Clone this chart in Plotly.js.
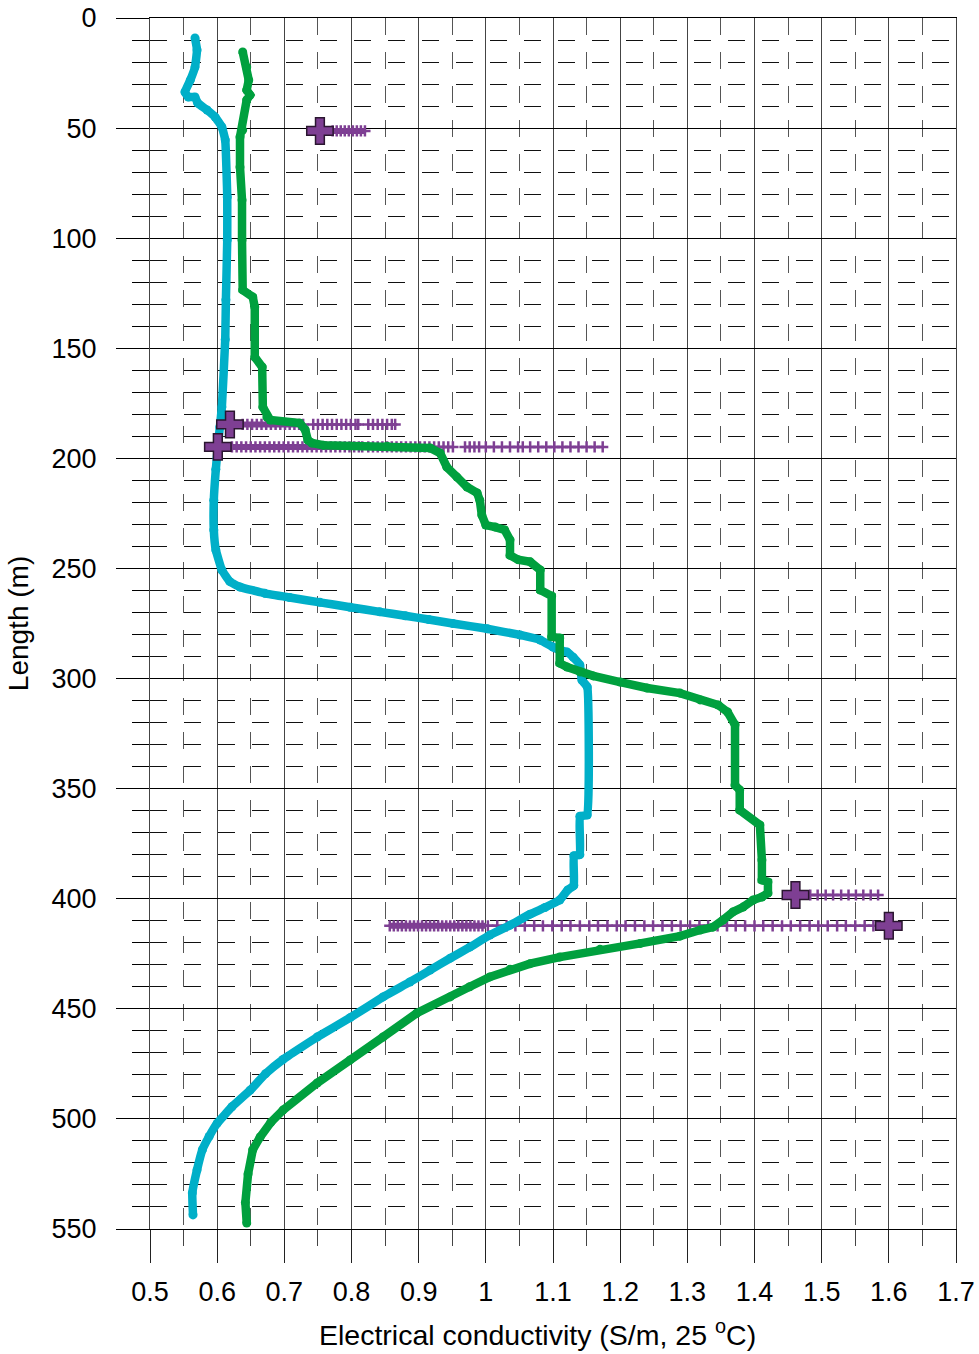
<!DOCTYPE html>
<html><head><meta charset="utf-8">
<script src="https://cdn.plot.ly/plotly-3.0.1.min.js"></script>
<style>html,body{margin:0;padding:0;background:#fff}</style>
</head><body><div id="chart" style="width:979px;height:1354px"></div>
<script>
// Cyan profile
const cyanEC = [0.567,0.570,0.567,0.560,0.552,0.557,0.567,0.571,0.585,0.597,0.607,0.612,0.615,0.615,0.613,0.612,0.607,0.604,0.601,0.598,0.595,0.595,0.598,0.607,0.619,0.634,0.671,0.708,0.753,0.798,0.842,0.880,0.915,0.951,1.002,1.051,1.081,1.100,1.110,1.121,1.130,1.140,1.143,1.151,1.151,1.140,1.140,1.131,1.131,1.122,1.110,1.088,1.066,1.036,1.006,0.976,0.947,0.917,0.887,0.847,0.798,0.749,0.698,0.672,0.649,0.622,0.600,0.588,0.578,0.570,0.563,0.564];
const cyanLen = [9.1,14.5,22.3,28.2,33.6,35.9,35.9,38.6,41.8,45,49.5,55.4,81.3,100.8,128,146,176.7,185.8,194.8,205,219,232.5,241.6,250.7,256,258.4,261.3,263.2,265.4,267.6,269.7,271.5,273.2,275,277.4,280.2,282.5,285.7,287,288,290.3,293.8,300.7,303.8,362,362.5,380,380.5,394,396,400.6,404,407,412,416.5,422,427,432.4,437.8,444.6,454,462.8,473,479.5,487,494.5,502,508,514,523.2,533.6,543.6];
// Green profile
const greenEC = [0.638,0.644,0.647,0.644,0.649,0.644,0.638,0.634,0.634,0.637,0.637,0.638,0.653,0.656,0.656,0.667,0.668,0.674,0.679,0.723,0.731,0.735,0.741,0.758,0.853,0.917,0.932,0.942,0.957,0.972,0.987,0.991,0.994,1.000,1.014,1.028,1.036,1.036,1.048,1.066,1.081,1.081,1.098,1.098,1.110,1.110,1.121,1.140,1.160,1.200,1.240,1.289,1.319,1.346,1.360,1.371,1.371,1.378,1.378,1.408,1.411,1.411,1.420,1.420,1.411,1.398,1.383,1.368,1.353,1.338,1.319,1.289,1.230,1.170,1.110,1.066,1.036,1.006,0.976,0.947,0.897,0.847,0.798,0.749,0.698,0.680,0.664,0.653,0.646,0.642,0.644];
const greenLen = [15.4,22.3,28.2,32.7,35,37.2,50.9,54,67.7,82.7,100.8,123.5,126.7,131.3,154,158.5,176.7,181.2,182.6,184,187,191.7,193,194,194.5,195.3,197.6,204,208.5,213,215.7,219,225.7,230.3,231.2,232.5,237,244,246,247,250.7,259.8,262.5,281,281.6,293,294.8,297,298.8,301.6,304.3,306.6,309.7,312,315.2,321,348.4,350.6,359.7,366.5,382.4,391.5,392.4,397.4,399.2,400.6,403.8,406,409.7,412.9,414.2,417,420.3,423,426.5,429.5,432,435.5,440,444.6,452,462.8,473.2,483.7,496,501.5,508.2,514,525,538,547.3];
// Purple point measurements (large crosses)
const sampleEC = [0.753,0.619,0.601,1.461,1.600];
const sampleLen = [51.3,184.6,194.8,398.3,412.3];
// Purple repeated readings (small crosses), one row per sample depth
const row1EC = [0.772,0.778,0.784,0.790,0.796,0.802,0.808,0.814,0.820];
const row2EC = [0.638,0.645,0.652,0.659,0.666,0.673,0.680,0.687,0.694,0.701,0.708,0.715,0.722,0.728,null,0.743,0.750,0.757,0.764,0.771,0.778,0.785,0.792,0.799,0.806,0.810,null,0.825,0.832,0.839,0.846,0.853,0.860,0.865];
const row3EC = [0.622,0.629,0.636,0.643,0.650,0.657,0.664,0.671,0.678,0.685,0.692,0.699,0.706,0.713,0.720,0.727,0.734,0.741,0.748,0.755,0.762,0.769,0.776,0.783,0.790,0.797,0.804,0.811,0.816,null,0.825,0.832,0.839,0.846,0.853,0.860,0.867,0.874,0.881,0.888,0.895,0.902,0.909,0.916,0.923,0.930,0.937,0.944,0.951,null,0.969,0.976,0.983,0.990,1.000,1.012,1.024,1.036,1.048,1.055,null,1.066,1.078,1.090,1.102,1.114,1.126,1.138,1.150,1.162,1.174];
const row4EC = [1.483,1.494,1.506,1.517,1.529,1.540,1.551,1.562,1.573,1.584];
const row5EC = [0.857,0.863,0.869,0.875,0.881,0.887,0.893,0.899,0.905,0.911,0.917,0.923,0.929,0.935,0.941,0.947,0.953,0.959,0.965,0.971,0.977,0.983,0.989,0.995,1.003,1.017,1.031,1.044,1.058,1.072,1.085,1.099,1.113,1.126,1.140,1.154,1.167,1.181,1.195,1.208,1.222,1.236,1.249,1.263,1.277,1.290,1.304,1.318,1.331,1.345,1.359,1.372,1.386,1.400,1.413,1.427,1.441,1.454,1.468,1.482,1.495,1.509,1.523,1.536,1.550,1.564,1.577];
// Dense runs of readings (drawn as solid bands)
const denseEC = [0.772,0.820,null,0.638,0.728,null,0.622,0.816,null,0.857,1.000];
const denseLen = [51.3,51.3,null,184.6,184.6,null,194.8,194.8,null,412.3,412.3];

const xTicks = [0.5,0.6,0.7,0.8,0.9,1.0,1.1,1.2,1.3,1.4,1.5,1.6,1.7];
const yTicks = [0,50,100,150,200,250,300,350,400,450,500,550];
const xTitle = 'Electrical conductivity (S/m, 25 <sup>o</sup>C)';
const yTitle = 'Length (m)';

const PURPLE = '#7e3f93';
const CYAN = '#00afc8';
const GREEN = '#00a03e';

function rowTrace(xs, depth){
  return {x: xs, y: xs.map(v => v === null ? null : depth), type:'scatter', mode:'lines+markers',
    connectgaps:false, hoverinfo:'skip', showlegend:false,
    line:{color:PURPLE, width:2.5},
    marker:{symbol:'cross-thin', size:8, line:{color:PURPLE, width:2.5}}};
}

const traces = [
  {x: denseEC, y: denseLen, type:'scatter', mode:'lines', connectgaps:false, showlegend:false,
    line:{color:PURPLE, width:6}},
  rowTrace(row1EC, sampleLen[0]),
  rowTrace(row2EC, sampleLen[1]),
  rowTrace(row3EC, sampleLen[2]),
  rowTrace(row4EC, sampleLen[3]),
  rowTrace(row5EC, sampleLen[4]),
  {x: cyanEC, y: cyanLen, type:'scatter', mode:'lines+markers', showlegend:false,
    line:{color:CYAN, width:8.5, shape:'spline', smoothing:0.3}, marker:{color:CYAN, size:9}},
  {x: greenEC, y: greenLen, type:'scatter', mode:'lines+markers', showlegend:false,
    line:{color:GREEN, width:8.5}, marker:{color:GREEN, size:9}},
  {x: sampleEC, y: sampleLen, type:'scatter', mode:'markers', showlegend:false,
    marker:{symbol:'cross', size:22, color:PURPLE, line:{color:'#2b1630', width:1.5}}}
];

const FONT = 'Liberation Sans, Arial, sans-serif';
const layout = {
  width: 979, height: 1354,
  margin: {l:150, r:23, t:18, b:125, pad:0},
  paper_bgcolor:'#fff', plot_bgcolor:'#fff',
  showlegend:false,
  font:{family:FONT, color:'#000', size:27},
  xaxis: {
    range:[0.5,1.7], tickmode:'array', tickvals:xTicks, ticktext:xTicks.map(v=>String(v)),
    ticks:'outside', ticklen:33, tickwidth:1, tickcolor:'#222',
    showgrid:true, gridcolor:'#444', gridwidth:1,
    showline:true, linecolor:'#000', linewidth:1, mirror:true,
    zeroline:false, ticklabelstandoff:6,
    tickfont:{size:27, family:FONT, color:'#000'},
    minor:{dtick:0.05, tick0:0.5, ticks:'outside', ticklen:16, tickwidth:1, tickcolor:'#444',
      showgrid:true, gridcolor:'#555', gridwidth:1, griddash:'17px,17px'}
  },
  yaxis: {
    range:[550,0], tickmode:'array', tickvals:yTicks,
    ticks:'outside', ticklen:33, tickwidth:1, tickcolor:'#000',
    showgrid:true, gridcolor:'#000', gridwidth:1,
    showline:true, linecolor:'#444', linewidth:1, mirror:true,
    zeroline:false, ticklabelstandoff:14,
    tickfont:{size:27, family:FONT, color:'#000'},
    minor:{dtick:10, tick0:0, ticks:'outside', ticklen:17, tickwidth:1, tickcolor:'#000',
      showgrid:true, gridcolor:'#111', gridwidth:1, griddash:'17px,17px'},
    title:{text:yTitle, font:{size:28, family:FONT, color:'#000'}, standoff:14}
  },
  annotations: [
    {text:xTitle, xref:'paper', yref:'paper', x:(537-150)/806, y:-(1333-1229)/1211,
     xanchor:'center', yanchor:'middle', showarrow:false,
     font:{size:28.5, family:FONT, color:'#000'}}
  ]
};

Plotly.newPlot('chart', traces, layout, {displayModeBar:false, staticPlot:true});
</script>
</body></html>
